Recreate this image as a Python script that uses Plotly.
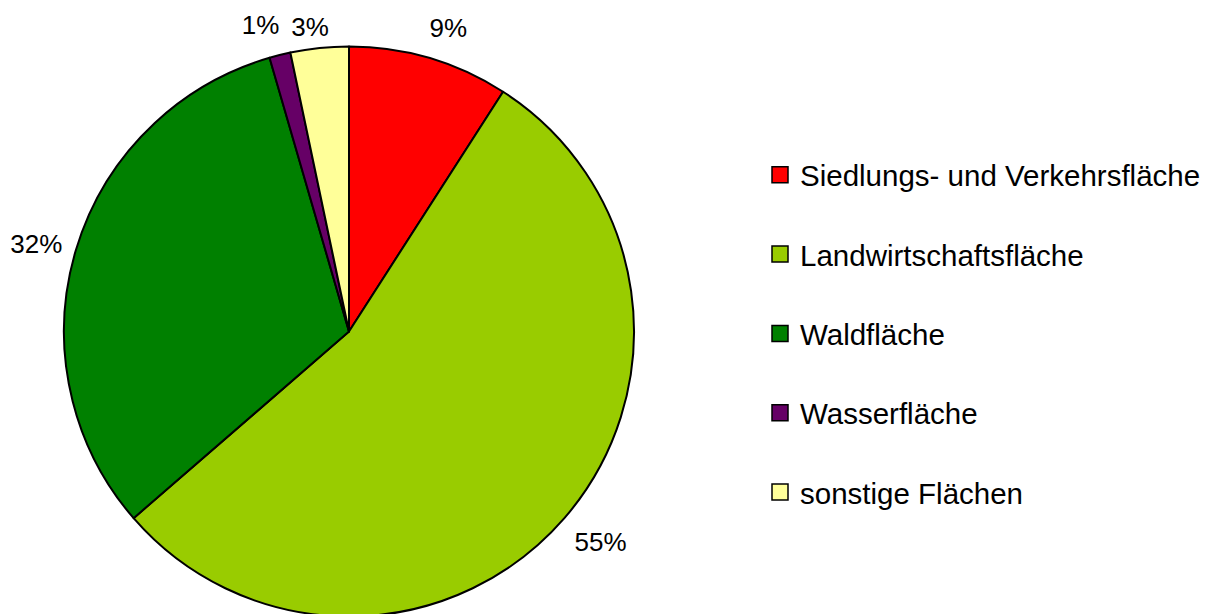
import plotly.graph_objects as go

labels = ["Siedlungs- und Verkehrsfläche", "Landwirtschaftsfläche", "Waldfläche",
          "Wasserfläche", "sonstige Flächen"]
values = [9.1, 54.6, 31.9, 1.2, 3.3]
colors = ["#FF0000", "#99CC00", "#008000", "#660066", "#FFFF99"]

W, H = 1211, 614
FONT = "Liberation Sans, Arial, sans-serif"
OFF = 8  # page offset of the figure div

# pie geometry (screen px)
PIE_CX, PIE_CY, PIE_R = 349, 331.5, 285
# label placement helpers: one invisible carrier pie per slice label (cx, cy, r in screen px)
LABEL_GEOM = [(341.8, 315.0, 285), (378.8, 373.0, 249), (343.1, 326.3, 285),
              (355.9, 316.0, 285), (365.8, 325.0, 285)]


def domain(cx, cy, r):
    cx -= OFF
    cy -= OFF
    return dict(x=[max(0, (cx - r) / W), min(1, (cx + r) / W)],
                y=[max(0, (H - (cy + r)) / H), min(1, (H - (cy - r)) / H)])


common = dict(labels=labels, values=values, sort=False, direction="clockwise",
              rotation=0, texttemplate="%{percent:.0%}", showlegend=False,
              textfont=dict(family=FONT, size=26, color="black"))

fig = go.Figure()
fig.add_trace(go.Pie(
    **common,
    marker=dict(colors=colors, line=dict(color="black", width=2)),
    textposition="none", hoverinfo="label+percent",
    domain=domain(PIE_CX, PIE_CY, PIE_R),
))
for i, geom in enumerate(LABEL_GEOM):
    fig.add_trace(go.Pie(
        **common,
        marker=dict(colors=["rgba(0,0,0,0)"] * len(values), line=dict(width=0)),
        textposition=["outside" if j == i else "none" for j in range(len(values))],
        hoverinfo="skip", domain=domain(*geom),
    ))

# legend entries
for lab, col in zip(labels, colors):
    fig.add_trace(go.Scatter(
        x=[None], y=[None], mode="markers", name=lab, legendgroup=lab,
        marker=dict(symbol="square", size=16, color=col, line=dict(color="black", width=1.5)),
    ))

fig.update_layout(
    width=W, height=H, margin=dict(l=0, r=0, t=0, b=0, autoexpand=False),
    paper_bgcolor="white", plot_bgcolor="white",
    xaxis=dict(visible=False), yaxis=dict(visible=False),
    legend=dict(x=752 / W, y=1 - 141 / H, xanchor="left", yanchor="top",
                font=dict(family=FONT, size=29.5, color="black"),
                tracegroupgap=38, itemwidth=30, bgcolor="rgba(0,0,0,0)"),
    font=dict(family=FONT),
)
fig.write_html("out.html")
